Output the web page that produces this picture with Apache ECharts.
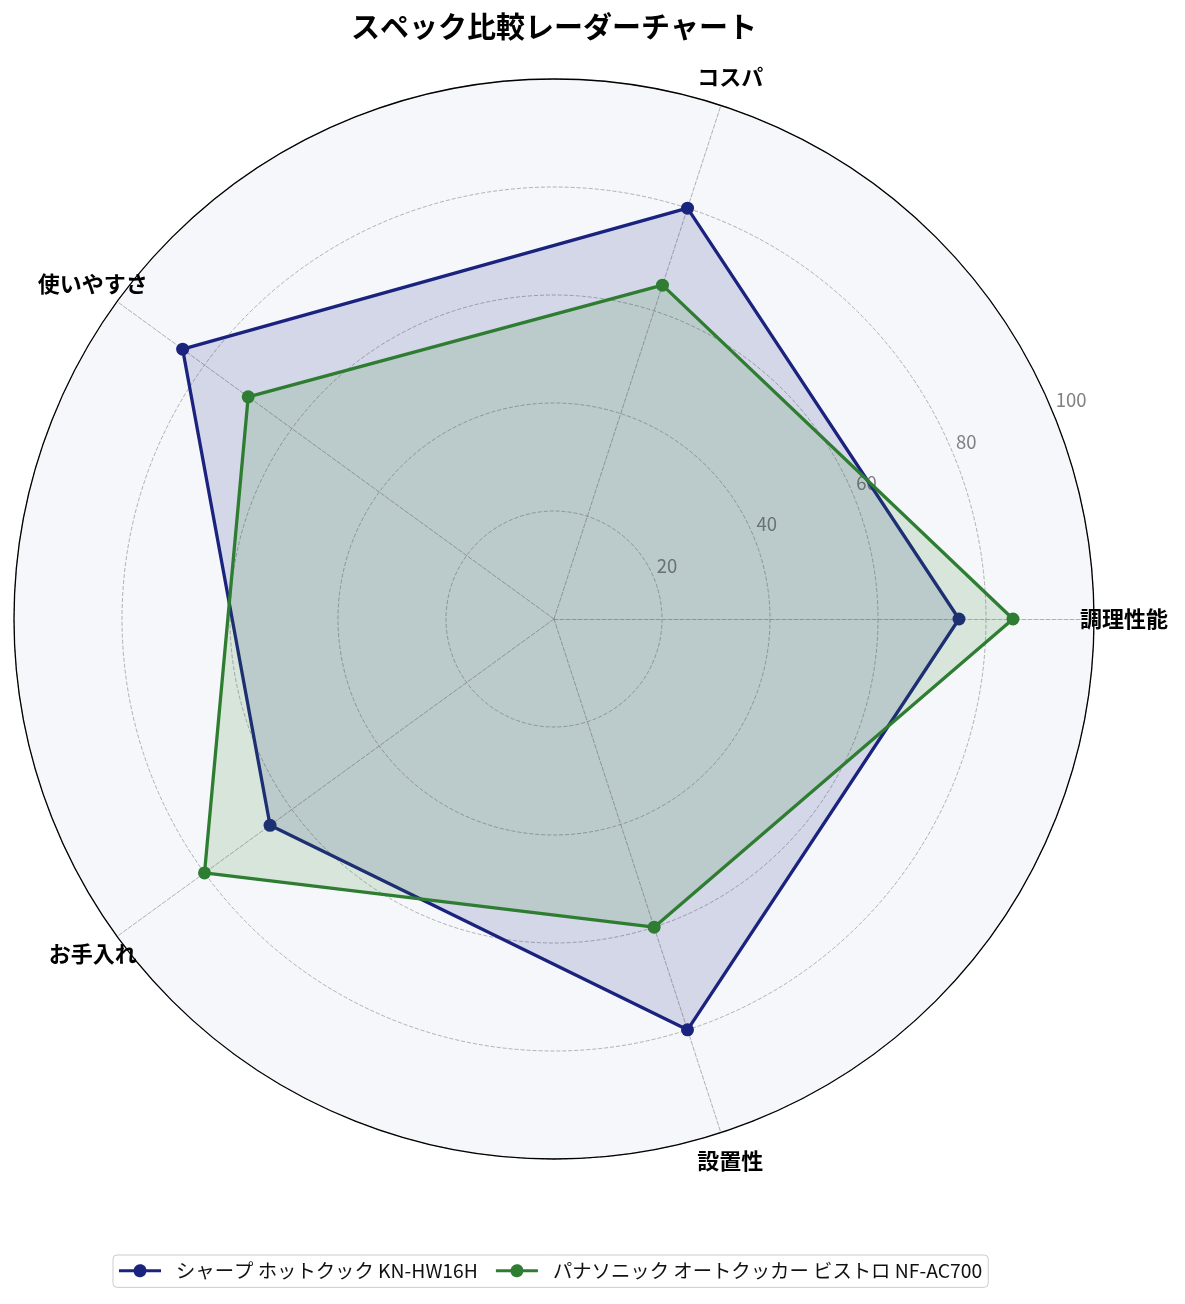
<!DOCTYPE html>
<html>
<head>
<meta charset="utf-8">
<script src="https://cdn.jsdelivr.net/npm/echarts@6/dist/echarts.min.js"></script>
<style>
  html, body { margin: 0; padding: 0; background: #ffffff; }
  #chart { width: 1185px; height: 1304px; }
</style>
</head>
<body>
<div id="chart"></div>
<script>
// ---- data ----
const indicatorNames = ['調理性能', 'コスパ', '使いやすさ', 'お手入れ', '設置性'];
const sharpName = 'シャープ ホットクック KN-HW16H';
const panaName = 'パナソニック オートクッカー ビストロ NF-AC700';
const sharpValues = [75, 80, 85, 65, 80];
const panaValues = [85, 65, 70, 80, 60];
const radialMax = 100;
const radialStep = 20;
const titleText = 'スペック比較レーダーチャート';

// ---- styling ----
const FONT = '"Noto Sans CJK JP", "Noto Sans", sans-serif';
const CX = 554, CY = 619, R = 540, LABEL_RING = 570;
const sharpColor = '#1a237e';
const panaColor = '#2e7d32';
const gridColor = '#9e9e9e';
const bgColor = '#f5f7fa';
const legendIcon = 'path://M0,5L14.68,5A6.5,6.5,0,0,1,27.32,5L42,5L42,8L27.32,8A6.5,6.5,0,0,1,14.68,8L0,8Z';

const chart = echarts.init(document.getElementById('chart'), null, { renderer: 'canvas' });

const option = {
  animation: false,
  backgroundColor: '#ffffff',
  textStyle: { fontFamily: FONT },
  title: {
    text: titleText,
    left: CX,
    top: 12,
    padding: 0,
    textAlign: 'center',
    textStyle: { fontFamily: FONT, fontSize: 29, fontWeight: 'bold', color: '#000' }
  },
  legend: {
    left: 113,
    top: 1255,
    orient: 'horizontal',
    padding: [6, 6, 7, 6],
    itemGap: 18,
    itemWidth: 42,
    itemHeight: 13,
    borderColor: '#cccccc',
    borderWidth: 1,
    borderRadius: 4,
    backgroundColor: '#ffffff',
    textStyle: { fontFamily: FONT, fontSize: 19.35, color: '#111', padding: [0, 0, 0, 10] },
    data: [
      { name: sharpName, icon: legendIcon },
      { name: panaName, icon: legendIcon }
    ]
  },
  radar: {
    center: [CX, CY],
    radius: R,
    startAngle: 0,
    shape: 'circle',
    splitNumber: radialMax / radialStep,
    indicator: indicatorNames.map(n => ({ name: n, min: 0, max: radialMax })),
    axisName: { show: false },
    axisLine: { lineStyle: { color: gridColor, width: 0.8, type: [4, 2] } },
    axisTick: { show: false },
    axisLabel: { show: false },
    splitLine: { lineStyle: { color: gridColor, width: 0.8, type: [4, 2] } },
    splitArea: { show: true, areaStyle: { color: [bgColor] } }
  },
  polar: [
    { center: [CX, CY], radius: R },
    { center: [CX, CY], radius: LABEL_RING }
  ],
  angleAxis: [
    {
      polarIndex: 0,
      type: 'value',
      min: 0,
      max: 360,
      startAngle: 22.5,
      z: 10,
      axisLine: { show: true, lineStyle: { color: '#000', width: 1.3 } },
      axisTick: { show: false },
      axisLabel: { show: false },
      splitLine: { show: false }
    },
    {
      polarIndex: 1,
      type: 'category',
      data: indicatorNames,
      startAngle: -36,
      clockwise: false,
      show: false
    }
  ],
  radiusAxis: [
    {
      polarIndex: 0,
      type: 'value',
      min: 0,
      max: radialMax,
      interval: radialStep,
      z: 1,
      axisLine: { show: false },
      axisTick: { show: false },
      splitLine: { show: false },
      axisLabel: {
        show: true,
        showMinLabel: false,
        margin: 3,
        padding: [0, 0, 0, 4],
        align: 'left',
        verticalAlign: 'bottom',
        color: '#808080',
        fontSize: 18.5,
        fontFamily: FONT,
        formatter: v => (v === 0 ? '' : String(v))
      }
    },
    {
      polarIndex: 1,
      type: 'value',
      min: 0,
      max: radialMax,
      show: false
    }
  ],
  series: [
    {
      type: 'radar',
      name: sharpName,
      z: 3,
      symbol: 'circle',
      symbolSize: 13,
      lineStyle: { color: sharpColor, width: 3.3 },
      itemStyle: { color: sharpColor },
      areaStyle: { color: sharpColor, opacity: 0.15 },
      data: [{ name: sharpName, value: sharpValues }]
    },
    {
      type: 'radar',
      name: panaName,
      z: 4,
      symbol: 'circle',
      symbolSize: 13,
      lineStyle: { color: panaColor, width: 3.3 },
      itemStyle: { color: panaColor },
      areaStyle: { color: panaColor, opacity: 0.15 },
      data: [{ name: panaName, value: panaValues }]
    },
    {
      type: 'scatter',
      coordinateSystem: 'polar',
      polarIndex: 1,
      symbolSize: 1,
      silent: true,
      z: 5,
      itemStyle: { color: 'rgba(0,0,0,0)' },
      label: {
        show: true,
        position: 'inside',
        formatter: '{b}',
        fontFamily: FONT,
        fontSize: 22,
        fontWeight: 'bold',
        color: '#000',
        opacity: 1,
        textBorderWidth: 0
      },
      data: indicatorNames.map(n => ({ name: n, value: [radialMax, n] }))
    }
  ]
};

chart.setOption(option);
</script>
</body>
</html>
